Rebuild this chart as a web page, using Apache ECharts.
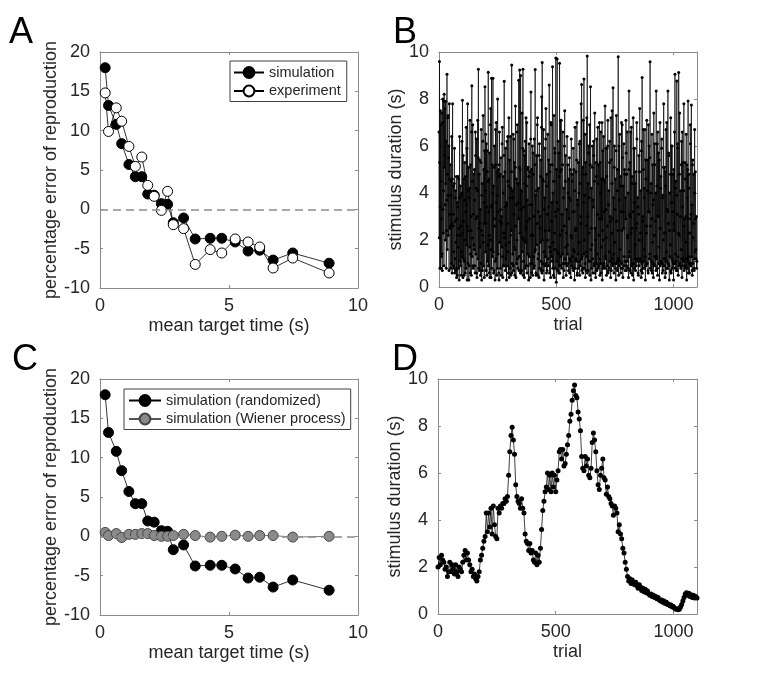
<!DOCTYPE html>
<html>
<head>
<meta charset="utf-8">
<title>reproduction error</title>
<script src="https://cdn.jsdelivr.net/npm/echarts@6/dist/echarts.min.js"></script>
<style>
  html, body { margin: 0; padding: 0; background: #fff; }
  #chart { width: 768px; height: 689px; }
</style>
</head>
<body>
<div id="chart"></div>
<script>
// bin centres (s), shared by panels A and C
var meanTargetTime = [0.2, 0.33, 0.63, 0.84, 1.12, 1.37, 1.62, 1.85, 2.1, 2.38, 2.62,
  2.84, 3.24, 3.69, 4.27, 4.72, 5.24, 5.74, 6.19, 6.71, 7.47, 8.88];
// percentage error of reproduction
var simulation = [18.0, 13.2, 10.8, 8.35, 5.7, 4.15, 4.15, 1.95, 1.8, 0.72, 0.64,
  -1.7, -1.1, -3.77, -3.68, -3.68, -4.15, -5.3, -5.2, -6.45, -5.55, -6.85];
var experiment = [14.8, 9.9, 12.9, 11.2, 8.0, 5.46, 6.65, 3.05, 1.65, -0.13, 2.29,
  -1.95, -2.45, -7.0, -5.12, -5.55, -3.77, -4.15, -4.79, -7.46, -6.19, -8.09];
var wiener = [0.5, 0.1, 0.35, -0.15, 0.25, 0.25, 0.35, 0.35, 0.1, 0.0, 0.0,
  0.1, 0.25, 0.1, -0.1, 0.0, 0.15, 0.0, 0.1, 0.1, -0.1, 0.0];

// panel B: randomized stimulus duration (s) of every trial, 50 trials per row
var randomStep = 1;
var randomDurations = [
  6.6,2.1, 9.6,5.3, 0.8,3.4, 7.5,0.8, 6.9,4.5, 1.3,2.9, 7.4,1.4, 0.7,7.0, 8.0,3.3, 2.3,4.1, 7.9,0.9, 8.2,5.1, 5.6,7.6, 3.5,2.0, 7.9,4.4, 6.2,0.8, 2.4,3.7, 9.05,1.6, 4.8,7.2, 7.3,3.9, 2.2,5.5, 6.0,0.7, 7.8,4.6, 3.1,2.5, 5.2,2.6,
  0.8,3.9, 4.5,1.0, 6.4,2.7, 0.6,4.6, 7.8,0.9, 2.6,3.1, 4.3,1.5, 0.8,4.4, 5.9,0.6, 1.2,2.8, 3.8,4.1, 0.7,1.9, 4.7,0.4, 2.9,3.6, 0.5,2.2, 3.4,4.7, 1.7,0.8, 4.6,2.5, 0.3,3.8, 6.4,1.1, 2.2,4.3, 0.9,2.6, 3.9,0.5, 1.5,4.0, 6.2,1.3,
  7.95,2.3, 0.4,5.6, 2.8,1.2, 4.6,0.5, 1.1,3.7, 5.3,2.0, 0.6,4.7, 3.2,0.8, 6.8,3.5, 1.8,5.9, 0.3,2.6, 7.8,1.0, 2.4,4.1, 5.1,0.3, 0.9,3.8, 4.2,1.7, 7.1,0.6, 1.4,5.2, 3.0,2.4, 0.5,6.6, 8.56,1.3, 2.1,4.5, 6.9,0.9, 0.8,3.1, 4.8,1.8,
  1.6,5.0, 3.7,0.9, 0.6,6.6, 5.6,1.4, 2.9,4.2, 6.3,0.6, 0.4,3.0, 4.1,7.1, 1.2,5.5, 9.27,0.8, 2.5,4.8, 0.7,2.7, 5.4,1.7, 3.3,0.5, 1.0,5.3, 6.7,2.4, 0.3,3.9, 4.4,0.7, 2.2,6.2, 7.3,1.9, 0.9,5.0, 3.6,0.4, 5.8,2.7, 8.52,4.1, 1.5,6.5,
  2.7,0.7, 6.1,3.4, 0.5,5.8, 4.9,1.1, 1.8,4.5, 9.14,0.9, 3.2,4.6, 0.6,2.2, 5.7,0.4, 2.0,6.9, 7.6,1.6, 0.4,3.4, 8.88,0.8, 3.5,5.2, 1.3,4.0, 8.88,1.5, 4.3,0.6, 0.7,5.1, 6.0,2.9, 2.6,0.3, 1.1,6.7, 5.2,1.2, 7.0,3.6, 0.5,4.9, 3.9,0.8,
  8.0,3.2, 1.4,5.0, 4.7,0.6, 0.3,5.2, 6.6,1.9, 2.8,4.8, 0.8,3.3, 5.5,0.5, 3.0,2.7, 1.7,6.1, 6.8,1.3, 0.4,4.7, 4.0,0.9, 2.3,5.6, 8.76,2.1, 0.9,4.9, 3.4,0.7, 5.9,1.8, 1.2,3.6, 0.3,3.5, 6.2,0.9, 2.7,6.4, 4.5,1.5, 0.6,4.3, 7.2,0.4,
  1.9,5.4, 3.8,0.8, 6.4,2.2, 0.5,4.2, 2.4,4.9, 9.45,0.6, 1.0,3.8, 4.1,1.4, 6.5,0.9, 0.7,6.3, 3.1,1.7, 5.3,0.5, 1.6,5.1, 7.7,2.6, 0.4,3.5, 4.6,1.0, 2.0,6.6, 6.9,1.2, 0.8,4.4, 3.6,2.9, 8.8,0.7, 1.3,5.1, 9.23,2.3, 5.0,0.6, 9.0,3.3,
  0.6,4.1, 3.3,0.7, 7.4,1.5, 2.1,5.9, 9.27,0.5, 1.1,3.4, 5.8,2.0, 0.4,5.6, 4.4,0.8, 6.2,1.9, 2.5,7.2, 0.9,4.3, 7.0,0.6, 3.7,2.8, 1.4,5.0, 5.1,0.9, 0.3,4.7, 6.1,1.3, 2.9,3.5, 4.9,0.4, 1.0,6.3, 8.3,2.2, 0.6,5.0, 3.5,1.0, 6.0,0.5,
  2.2,5.7, 4.8,1.3, 0.8,3.0, 6.3,0.9, 1.5,5.2, 9.26,1.6, 3.9,0.6, 0.5,4.1, 5.6,1.8, 2.7,6.9, 7.2,0.5, 1.2,3.2, 4.2,1.4, 0.4,5.6, 6.1,0.8, 3.0,2.5, 1.9,4.7, 5.4,1.1, 0.7,6.8, 8.1,0.6, 9.55,2.0, 4.6,0.7, 1.0,4.5, 6.7,1.5, 0.3,3.3,
  3.8,0.9, 5.9,2.4, 1.3,6.3, 7.6,1.0, 0.6,4.8, 4.3,0.7, 2.0,3.1, 6.5,1.2, 0.9,5.4, 3.4,2.4, 8.6,0.6, 1.7,4.9, 5.2,1.5, 0.4,7.0, 6.9,1.3, 2.8,3.6, 1.1,5.2, 9.37,0.8, 4.0,1.9, 0.5,4.5, 7.3,0.4, 2.3,5.9, 5.7,1.6, 0.8,3.2, 9.75,3.0,
  0.2,5.0, 3.6,1.1, 9.7,0.7, 1.5,3.3, 6.2,1.4, 0.6,5.7, 4.7,0.9, 9.52,0.6, 2.2,4.9, 7.1,1.3, 0.9,7.1, 5.0,0.8, 3.1,2.4, 1.4,5.2, 6.6,1.0, 0.4,3.8, 4.2,0.7, 2.6,6.0, 7.5,1.2, 1.0,4.5, 5.6,1.7, 0.5,2.3, 3.3,0.9, 6.4,1.4, 1.8,5.2,
  4.0,1.0, 0.7,4.6, 2.9,3.8, 5.5,0.6, 1.2,5.0, 3.7,1.1, 0.4,2.2, 6.3,0.9, 2.1,4.8, 4.5,1.3, 0.8,3.2, 5.9,0.7, 1.6,5.0, 3.2,1.5, 0.3,4.1, 6.8,0.8, 2.4,2.5, 4.9,1.2, 1.1,5.4, 7.0,0.5, 0.6,3.7, 3.5,1.4, 5.3,0.8, 1.9,4.0, 6.1,1.1,
  0.5,6.2, 4.4,0.9, 2.7,3.0, 7.8,1.2, 8.62,0.7, 1.3,4.8, 5.1,0.6, 0.8,7.1, 3.6,1.4, 8.85,0.8, 2.0,3.9, 6.5,1.0, 0.4,5.3, 4.8,0.7, 1.5,2.6, 7.2,1.3, 9.83,0.6, 3.0,4.4, 0.7,6.0, 5.7,1.1, 2.3,3.8, 6.9,0.5, 1.1,5.2, 8.52,1.6, 0.3,2.5,
  4.2,0.8, 1.8,5.1, 6.0,1.2, 0.6,3.7, 3.4,6.2, 5.6,0.9, 1.0,4.5, 7.4,0.6, 2.5,2.0, 0.4,5.3, 4.7,1.0, 6.3,0.7, 1.4,3.1, 3.1,6.8, 0.8,4.4, 5.2,0.9, 2.2,2.9, 7.0,1.2, 0.5,5.3, 4.0,1.0, 6.6,0.6, 1.7,4.6, 2.9,7.0, 0.3,2.4, 5.8,0.8,
  2.0,4.6, 6.4,1.0, 0.9,3.2, 4.5,0.8, 7.7,1.3, 1.2,5.9, 3.3,2.1, 0.5,4.7, 5.9,0.9, 2.6,6.0, 7.1,0.6, 0.7,3.5, 4.1,0.8, 1.5,5.3, 6.2,1.1, 3.0,2.8, 0.4,7.2, 5.4,0.7, 2.3,4.4, 7.5,1.2, 1.0,2.9, 8.48,0.9, 3.8,1.4, 0.6,5.1, 6.0,1.0,
  1.9,3.3, 4.6,0.8, 0.3,5.8, 7.3,1.0, 2.8,4.1, 5.0,0.7, 1.1,2.4, 9.8,1.2, 0.5,6.0, 3.7,0.9, 6.5,1.1, 1.6,4.7, 4.3,0.6, 0.8,3.2, 7.0,1.0, 2.4,6.9, 5.5,0.8, 0.4,4.3, 3.2,2.5, 6.1,0.9, 1.3,5.0, 4.8,1.1, 0.7,3.8, 2.9,7.1, 5.7,0.7,
  0.9,4.8, 6.6,1.1, 2.1,2.2, 4.0,0.8, 0.4,5.0, 8.34,1.3, 1.5,3.1, 5.3,0.7, 3.0,6.6, 0.6,2.3, 6.8,0.9, 2.5,4.7, 4.4,0.5, 1.0,3.2, 7.2,1.0, 0.3,5.9, 3.6,0.8, 5.9,1.2, 1.8,4.4, 0.7,2.5, 4.9,0.9, 2.7,7.0, 6.3,1.1, 1.2,3.8, 3.4,0.6,
  0.5,3.1, 5.6,0.9, 2.0,4.9, 7.6,1.2, 1.1,2.3, 4.1,0.7, 0.4,5.8, 6.2,1.0, 8.92,0.6, 2.8,3.0, 0.8,6.7, 5.0,1.1, 1.6,4.2, 3.8,0.8, 6.7,1.3, 0.3,5.4, 4.6,0.9, 2.3,2.6, 7.1,1.0, 1.0,4.1, 5.4,0.7, 0.6,6.9, 3.2,3.2, 6.0,1.2, 1.4,5.5,
  9.59,0.8, 2.6,4.0, 4.4,1.1, 0.7,2.9, 6.5,0.6, 1.9,5.2, 3.5,1.0, 0.4,3.7, 7.4,0.9, 2.2,6.1, 5.2,1.3, 0.9,2.8, 4.0,0.7, 8.34,1.2, 1.3,4.3, 6.1,0.8, 0.5,6.6, 3.0,3.0, 5.7,1.0, 1.7,5.4, 0.3,2.5, 7.0,0.9, 2.5,4.2, 4.7,1.1, 1.0,5.9,
  6.3,1.0, 0.6,3.8, 3.9,0.7, 2.0,5.1, 7.8,0.9, 1.2,2.3, 5.1,1.2, 0.4,4.9, 4.3,0.6, 6.7,1.1, 1.5,7.0, 3.3,0.8, 0.8,3.2, 8.34,1.0, 2.7,5.7, 5.6,0.9, 0.3,2.4, 4.0,1.3, 1.8,4.8, 7.2,0.7, 0.6,6.0, 3.6,1.2, 6.0,0.8, 1.1,3.2, 4.8,1.0,
  0.3,5.0, 2.4,2.7, 6.6,1.0, 9.05,0.8, 1.4,4.2, 4.5,1.1, 0.7,3.9, 8.77,0.7, 3.1,6.1, 5.9,1.3, 0.5,2.3, 9.13,0.9, 2.2,4.8, 7.4,1.0, 0.9,3.0, 4.1,0.8, 1.6,5.2, 6.2,1.2, 0.4,6.6, 3.4,0.9, 5.3,1.1, 1.2,4.1, 7.8,0.7, 2.6,2.9, 0.8,5.3,
  4.6,0.9, 1.9,3.0, 6.5,1.2, 0.3,5.2, 3.8,0.8, 5.0,1.1, 7.91,0.6, 1.3,4.8, 4.2,1.0, 0.6,2.3, 2.9,6.9, 6.1,0.9, 1.0,3.1, 7.74,1.3, 3.5,0.7, 0.5,5.2, 5.4,1.0, 2.1,2.7, 4.8,0.8, 0.7,4.0, 6.7,1.2, 1.5,4.9, 2.9,1.6, 1.2,3.0, 0.8,1.1
];

// panel D: Wiener-process stimulus duration (s), one value every 5 trials, 100 trials per row
var wienerStep = 5;
var wienerDurations = [
  2.0, 2.4, 2.1, 2.5, 2.3, 2.2, 1.9, 2.0, 1.6, 1.8, 2.2, 1.8, 2.1, 1.9, 1.7, 2.1, 1.8, 1.6, 2.0, 1.9,
  1.8, 2.2, 2.5, 2.7, 2.3, 2.6, 2.3, 2.1, 1.8, 1.9, 1.6, 1.7, 1.5, 1.4, 1.6, 1.8, 2.3, 2.5, 2.8, 3.1,
  3.3, 4.3, 3.5, 4.3, 3.7, 4.5, 3.4, 4.6, 3.8, 3.3, 3.2, 4.5, 4.3, 4.6, 4.5, 4.7, 4.7, 4.9, 4.8, 5.0,
  5.9, 6.9, 7.6, 7.95, 7.4, 6.8, 5.5, 5.0, 4.8, 4.7, 4.5, 4.9, 4.5, 4.3, 3.4, 3.1, 3.0, 2.7, 3.0, 2.6,
  2.7, 2.3, 2.2, 2.6, 2.1, 2.5, 2.2, 2.8, 3.6, 4.4, 4.8, 5.2, 5.4, 6.0, 5.3, 5.9, 5.2, 6.0, 5.4, 5.9,
  5.2, 5.7, 6.1, 6.9, 7.0, 6.6, 7.0, 6.3, 6.4, 6.8, 7.2, 7.6, 8.2, 8.5, 9.1, 9.5, 9.75, 9.3, 9.2, 8.6,
  8.3, 7.8, 6.7, 6.2, 6.1, 6.7, 6.3, 6.6, 5.9, 5.8, 6.2, 7.3, 7.7, 7.4, 6.9, 6.1, 5.5, 5.3, 5.9, 6.2,
  6.6, 5.8, 5.7, 5.1, 5.4, 5.0, 4.9, 4.7, 4.6, 4.2, 4.6, 4.5, 4.3, 3.5, 3.8, 3.4, 3.2, 2.8, 2.6, 2.2,
  1.9, 1.6, 1.4, 1.5, 1.3, 1.45, 1.3, 1.25, 1.35, 1.2, 1.1, 1.25, 1.15, 1.0, 1.1, 0.95, 1.05, 0.9, 0.98, 0.85,
  0.8, 0.85, 0.75, 0.8, 0.7, 0.75, 0.65, 0.7, 0.6, 0.55, 0.6, 0.5, 0.55, 0.45, 0.5, 0.4, 0.42, 0.35, 0.38, 0.3,
  0.32, 0.25, 0.2, 0.22, 0.18, 0.2, 0.3, 0.4, 0.55, 0.7, 0.85, 0.9, 0.8, 0.88, 0.75, 0.82, 0.7, 0.8, 0.68, 0.75,
  0.68
];

var FONT = 'Liberation Sans, Arial, Helvetica, sans-serif';
var AXIS = '#8c8c8c';
var TEXT = '#262626';

function pairs(xs, ys) {
  return ys.map(function (v, i) { return [xs[i], v]; });
}
function trialPairs(ys, step) {
  return ys.map(function (v, i) { return [i * step, v]; });
}

function axisPair(kind, grid, min, max, interval, name, nameGap, hideMax) {
  var base = {
    type: 'value', gridIndex: grid, min: min, max: max, interval: interval,
    axisLine: { show: true, onZero: false, lineStyle: { color: AXIS, width: 1 } },
    axisTick: { show: true, inside: true, length: 3, lineStyle: { color: AXIS } },
    splitLine: { show: false }
  };
  var main = Object.assign({}, base, {
    position: kind === 'x' ? 'bottom' : 'left',
    name: name, nameLocation: 'middle', nameGap: nameGap,
    nameTextStyle: { fontSize: 18, color: TEXT, fontFamily: FONT },
    axisLabel: {
      color: TEXT, fontSize: 18, fontFamily: FONT, margin: kind === 'x' ? 9 : 10,
      showMaxLabel: !hideMax,
      formatter: function (v) { return String(v); }
    }
  });
  var mirror = Object.assign({}, base, {
    position: kind === 'x' ? 'top' : 'right',
    axisLabel: { show: false }
  });
  return [main, mirror];
}

var zeroLine = {
  silent: true, symbol: 'none', label: { show: false },
  lineStyle: { color: '#8c8c8c', type: [8, 5], width: 1.5 },
  data: [{ yAxis: 0 }]
};

function letter(t, left, top) {
  return { text: t, left: left, top: top, padding: 0,
    textStyle: { fontSize: 36, fontWeight: 'normal', color: '#000', fontFamily: FONT } };
}

function legendBox(names, left, top, itemWidth, padding) {
  return {
    data: names, orient: 'vertical', left: left, top: top, padding: padding,
    itemWidth: itemWidth, itemHeight: 13.5, itemGap: 3.5, selectedMode: false,
    borderColor: '#404040', borderWidth: 1, backgroundColor: '#fff',
    textStyle: { fontSize: 14.5, color: TEXT, fontFamily: FONT }
  };
}

var chart = echarts.init(document.getElementById('chart'));
chart.setOption({
  animation: false,
  backgroundColor: '#fff',
  title: [letter('A', 9, 15), letter('B', 393, 15), letter('C', 12, 342), letter('D', 392, 342)],
  legend: [
    legendBox(['simulation', 'experiment'], 230, 61, 30, [4, 6, 3, 3]),
    legendBox(['simulation (randomized)', 'simulation (Wiener process)'], 124, 389, 32, [4, 5, 3, 4])
  ],
  grid: [
    { left: 100, top: 52, width: 258, height: 236 },
    { left: 439, top: 52, width: 258, height: 235 },
    { left: 100, top: 379, width: 258, height: 236 },
    { left: 438, top: 379, width: 259, height: 235 }
  ],
  xAxis: [].concat(
    axisPair('x', 0, 0, 10, 5, 'mean target time (s)', 29, false),
    axisPair('x', 1, 0, 1100, 500, 'trial', 29, true),
    axisPair('x', 2, 0, 10, 5, 'mean target time (s)', 29, false),
    axisPair('x', 3, 0, 1100, 500, 'trial', 29, true)
  ),
  yAxis: [].concat(
    axisPair('y', 0, -10, 20, 5, 'percentage error of reproduction', 35, false),
    axisPair('y', 1, 0, 10, 2, 'stimulus duration (s)', 29, false),
    axisPair('y', 2, -10, 20, 5, 'percentage error of reproduction', 35, false),
    axisPair('y', 3, 0, 10, 2, 'stimulus duration (s)', 29, false)
  ),
  series: [
    {
      name: 'simulation', type: 'line', xAxisIndex: 0, yAxisIndex: 0,
      data: pairs(meanTargetTime, simulation),
      symbol: 'circle', symbolSize: 10,
      itemStyle: { color: '#000', borderColor: '#000', borderWidth: 1 },
      lineStyle: { color: '#000', width: 0.8 },
      markLine: zeroLine
    },
    {
      name: 'experiment', type: 'line', xAxisIndex: 0, yAxisIndex: 0,
      data: pairs(meanTargetTime, experiment),
      symbol: 'circle', symbolSize: 10,
      itemStyle: { color: '#fff', borderColor: '#000', borderWidth: 1 },
      lineStyle: { color: '#000', width: 0.8 }
    },
    {
      name: 'randomized trials', type: 'line', xAxisIndex: 2, yAxisIndex: 2,
      data: trialPairs(randomDurations, randomStep),
      symbol: 'circle', symbolSize: 3, silent: true,
      itemStyle: { color: '#000' },
      lineStyle: { color: '#000', width: 0.7 }
    },
    {
      name: 'simulation (randomized)', type: 'line', xAxisIndex: 4, yAxisIndex: 4,
      data: pairs(meanTargetTime, simulation),
      symbol: 'circle', symbolSize: 10,
      itemStyle: { color: '#000', borderColor: '#000', borderWidth: 1 },
      lineStyle: { color: '#000', width: 0.8 },
      markLine: zeroLine
    },
    {
      name: 'simulation (Wiener process)', type: 'line', xAxisIndex: 4, yAxisIndex: 4,
      data: pairs(meanTargetTime, wiener),
      symbol: 'circle', symbolSize: 10,
      itemStyle: { color: '#8a8a8a', borderColor: '#444', borderWidth: 1 },
      lineStyle: { color: '#555', width: 0.8 }
    },
    {
      name: 'wiener trials', type: 'line', xAxisIndex: 6, yAxisIndex: 6,
      data: trialPairs(wienerDurations, wienerStep),
      symbol: 'circle', symbolSize: 5, silent: true,
      itemStyle: { color: '#000' },
      lineStyle: { color: '#111', width: 0.8 }
    }
  ]
});
</script>
</body>
</html>
